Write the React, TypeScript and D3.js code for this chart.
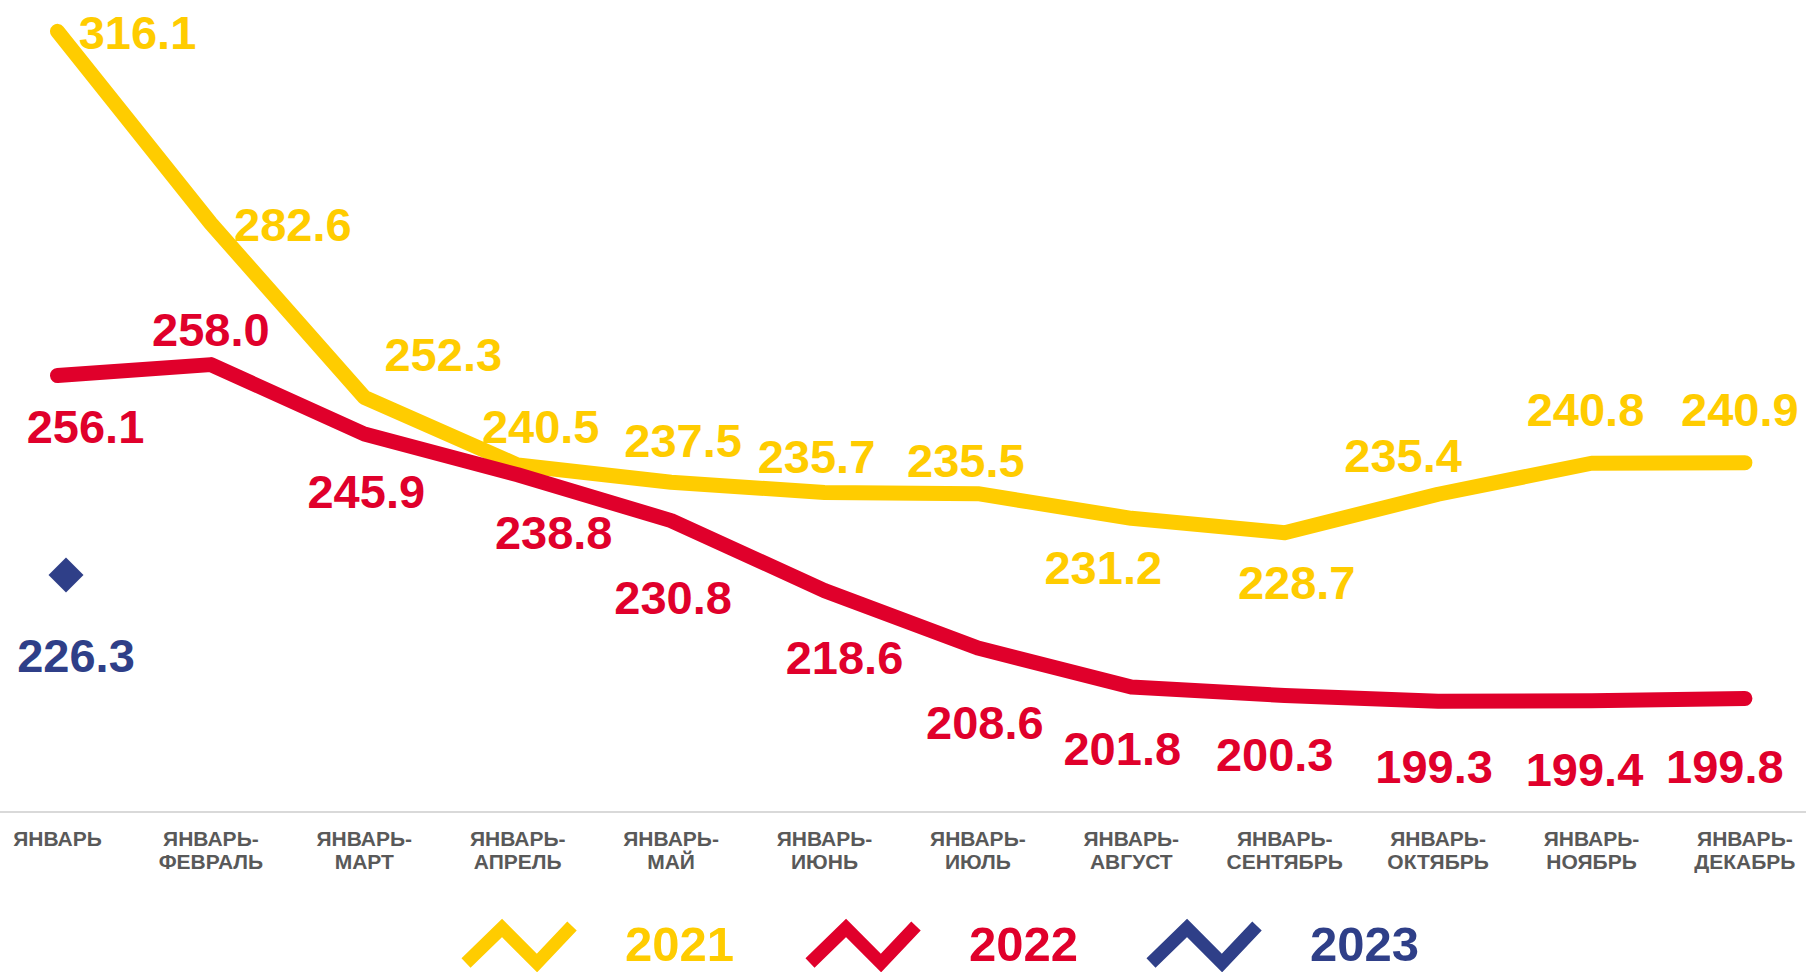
import React from "react";
import * as d3 from "d3";

const categories: string[][] = [
  ["ЯНВАРЬ"],
  ["ЯНВАРЬ-", "ФЕВРАЛЬ"],
  ["ЯНВАРЬ-", "МАРТ"],
  ["ЯНВАРЬ-", "АПРЕЛЬ"],
  ["ЯНВАРЬ-", "МАЙ"],
  ["ЯНВАРЬ-", "ИЮНЬ"],
  ["ЯНВАРЬ-", "ИЮЛЬ"],
  ["ЯНВАРЬ-", "АВГУСТ"],
  ["ЯНВАРЬ-", "СЕНТЯБРЬ"],
  ["ЯНВАРЬ-", "ОКТЯБРЬ"],
  ["ЯНВАРЬ-", "НОЯБРЬ"],
  ["ЯНВАРЬ-", "ДЕКАБРЬ"],
];

const values2021 = [316.1, 282.6, 252.3, 240.5, 237.5, 235.7, 235.5, 231.2, 228.7, 235.4, 240.8, 240.9];
const values2022 = [256.1, 258.0, 245.9, 238.8, 230.8, 218.6, 208.6, 201.8, 200.3, 199.3, 199.4, 199.8];
const values2023 = [226.3];

const years = ["2021", "2022", "2023"];
const colors = ["#FFCC00", "#E0002B", "#2F3F88"];

// label placement (layout offsets from each point: dx, baseline dy)
const labelOffsets2021: [number, number][] = [
  [80, 18], [82, 17], [79, -26], [23, -22], [12, -25], [-8, -20],
  [-12, -17], [-28, 66], [12, 66], [-35, -22], [-6, -37], [-5, -37],
];
const labelOffsets2022: [number, number][] = [
  [28, 67], [0, -19], [2, 74], [36, 74], [2, 93], [20, 83],
  [7, 91], [-9, 78], [-10, 75], [-4, 82], [-7, 85], [-20, 85],
];
const labelOffsets2023: [number, number][] = [[10, 97]];

const W = 1806;
const H = 972;
const FONT = "'Liberation Sans', Arial, Helvetica, sans-serif";

export default function App() {
  const idx = categories.map((_, i) => i);
  const x = d3.scalePoint<number>().domain(idx).range([57.5, 1744.9]);
  const x2 = d3.scalePoint<number>().domain(idx).range([66, 1753.4]);
  const y = d3.scaleLinear().domain([180, 320]).range([812, 9]);
  const y2 = d3.scaleLinear().domain([185, 325]).range([812, 9]);

  const line = d3
    .line<number>()
    .x((_, i) => x(i)!)
    .y((d) => y(d));

  const series = [
    { vals: values2021, offs: labelOffsets2021, color: colors[0] },
    { vals: values2022, offs: labelOffsets2022, color: colors[1] },
  ];

  const legendX = [462, 806, 1147];

  return (
    <svg
      width={W}
      height={H}
      style={{ position: "absolute", left: 0, top: 0, background: "#fff" }}
      fontFamily={FONT}
    >
      <line x1={0} x2={W} y1={y(180)} y2={y(180)} stroke="#D9D9D9" strokeWidth={2} />
      {idx.map((i) => (
        <text
          key={"c" + i}
          x={x(i)}
          y={846}
          textAnchor="middle"
          fontSize={21}
          fontWeight="bold"
          fill="#595959"
        >
          {categories[i].map((t, k) => (
            <tspan key={k} x={x(i)} dy={k === 0 ? 0 : 23}>
              {t}
            </tspan>
          ))}
        </text>
      ))}

      {series.map((s, si) => (
        <path
          key={"l" + si}
          d={line(s.vals) || ""}
          fill="none"
          stroke={s.color}
          strokeWidth={15}
          strokeLinecap="round"
          strokeLinejoin="round"
        />
      ))}

      {values2023.map((v, i) => {
        const cx = x2(i)!;
        const cy = y2(v);
        const r = 17.5;
        return (
          <path
            key={"d" + i}
            d={`M${cx},${cy - r}L${cx + r},${cy}L${cx},${cy + r}L${cx - r},${cy}Z`}
            fill={colors[2]}
          />
        );
      })}

      {series.map((s, si) =>
        s.vals.map((v, i) => (
          <text
            key={"t" + si + "_" + i}
            x={x(i)! + s.offs[i][0]}
            y={y(v) + s.offs[i][1]}
            textAnchor="middle"
            fontSize={47}
            fontWeight="bold"
            fill={s.color}
          >
            {v.toFixed(1)}
          </text>
        ))
      )}
      {values2023.map((v, i) => (
        <text
          key={"t3_" + i}
          x={x2(i)! + labelOffsets2023[i][0]}
          y={y2(v) + labelOffsets2023[i][1]}
          textAnchor="middle"
          fontSize={47}
          fontWeight="bold"
          fill={colors[2]}
        >
          {v.toFixed(1)}
        </text>
      ))}

      {years.map((yr, k) => {
        const lx = legendX[k];
        const pts = [
          [lx + 4, 963],
          [lx + 40, 928],
          [lx + 75, 963],
          [lx + 110, 926],
        ];
        return (
          <g key={"lg" + k}>
            <polyline
              points={pts.map((p) => p.join(",")).join(" ")}
              fill="none"
              stroke={colors[k]}
              strokeWidth={13}
              strokeLinejoin="miter"
              strokeLinecap="butt"
            />
            <text
              x={lx + 163}
              y={961}
              fontSize={49}
              fontWeight="bold"
              fill={colors[k]}
            >
              {yr}
            </text>
          </g>
        );
      })}
    </svg>
  );
}
